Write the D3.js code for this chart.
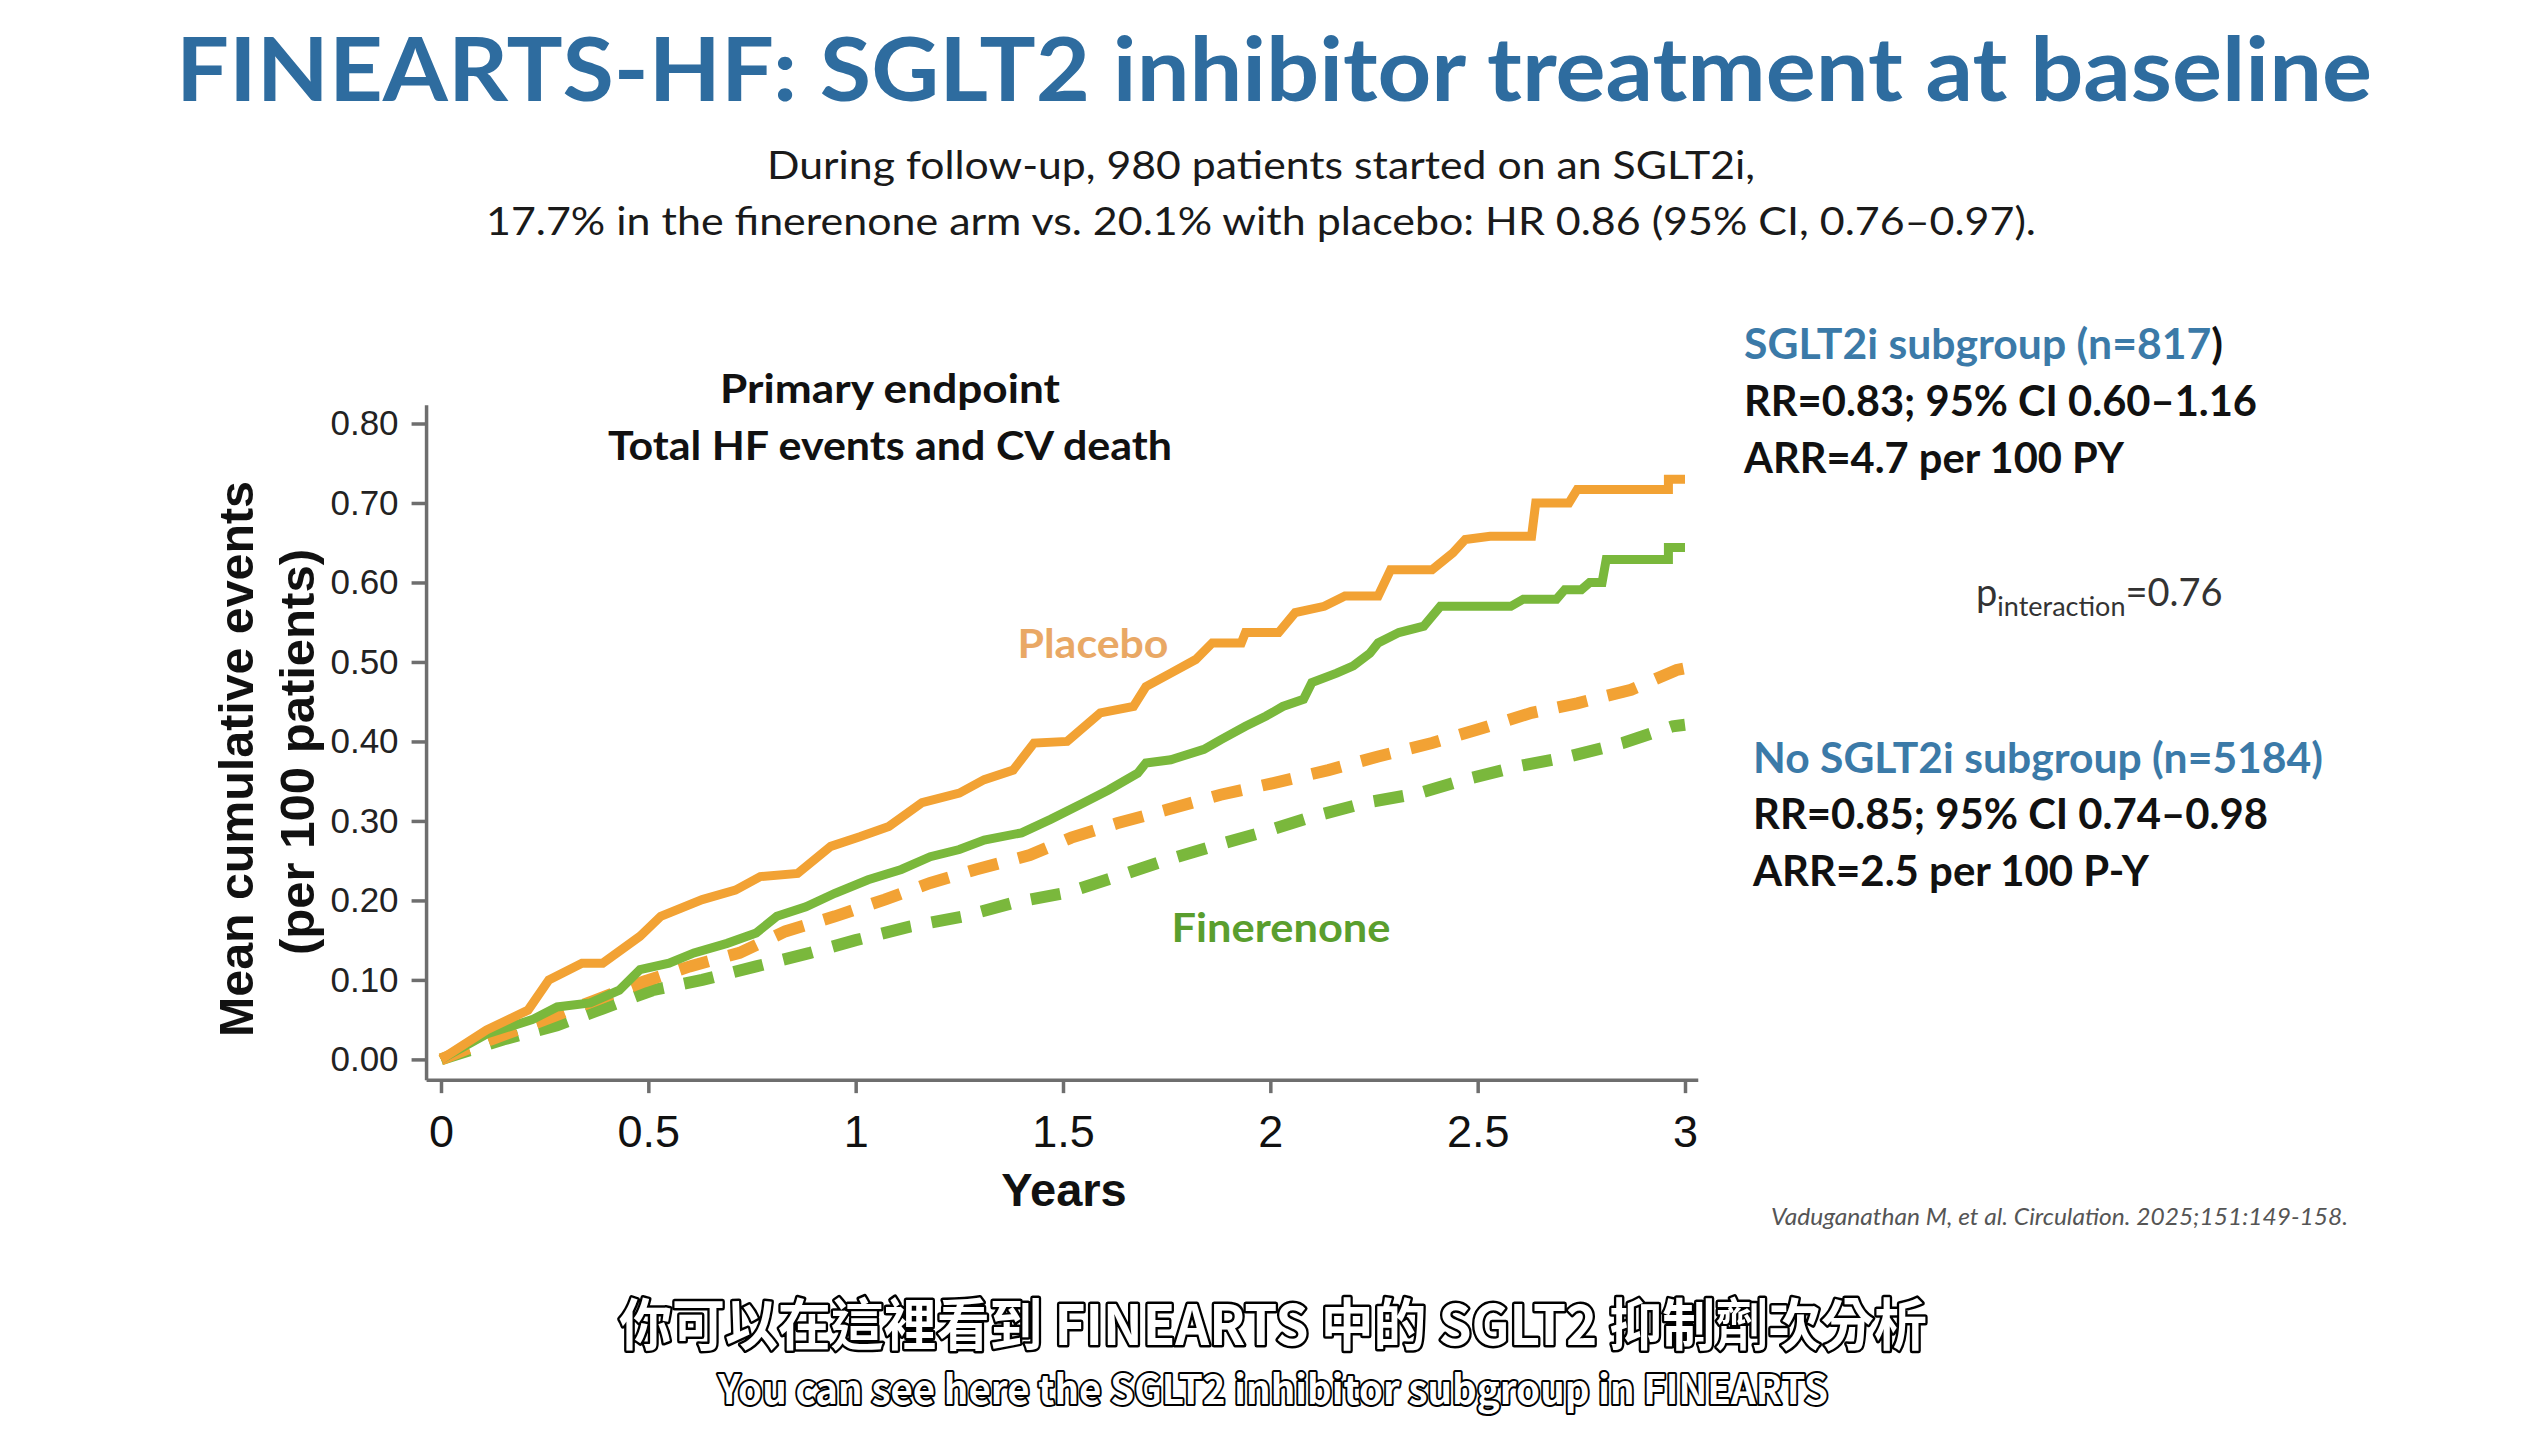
<!DOCTYPE html>
<html>
<head>
<meta charset="utf-8">
<script src="https://cdn.jsdelivr.net/npm/d3@7"></script>
<style>
  html, body { margin: 0; padding: 0; background: #ffffff; }
  svg { display: block; }
</style>
</head>
<body>
<svg id="chart" width="2548" height="1432"></svg>
<script>
// ---------------- DATA ----------------
const xTicks = [0, 0.5, 1, 1.5, 2, 2.5, 3];
const xTickLabels = ["0", "0.5", "1", "1.5", "2", "2.5", "3"];
const yTicks = [0, 0.1, 0.2, 0.3, 0.4, 0.5, 0.6, 0.7, 0.8];

// SGLT2i subgroup – placebo (solid orange)
const sgltPlaceboT = [0, 0.11, 0.21, 0.26, 0.34, 0.39, 0.48, 0.53, 0.63, 0.71, 0.77, 0.86, 0.94, 1.01, 1.08, 1.16, 1.25, 1.31, 1.38, 1.43, 1.51, 1.59, 1.67, 1.70, 1.76, 1.82, 1.86, 1.93, 1.94, 2.02, 2.06, 2.13, 2.18, 2.26, 2.29, 2.39, 2.44, 2.47, 2.53, 2.63, 2.64, 2.72, 2.74, 2.96, 2.96, 3.0];
const sgltPlaceboV = [0, 0.037, 0.062, 0.100, 0.121, 0.121, 0.155, 0.180, 0.201, 0.213, 0.230, 0.234, 0.268, 0.280, 0.293, 0.323, 0.335, 0.352, 0.364, 0.398, 0.400, 0.436, 0.444, 0.469, 0.486, 0.503, 0.524, 0.524, 0.537, 0.537, 0.562, 0.570, 0.583, 0.583, 0.616, 0.616, 0.637, 0.654, 0.658, 0.658, 0.700, 0.700, 0.717, 0.717, 0.730, 0.730];

// SGLT2i subgroup – finerenone (solid green)
const sgltFineT = [0, 0.11, 0.22, 0.28, 0.36, 0.43, 0.48, 0.55, 0.61, 0.69, 0.76, 0.81, 0.88, 0.95, 1.03, 1.11, 1.18, 1.25, 1.31, 1.40, 1.47, 1.55, 1.61, 1.68, 1.70, 1.76, 1.84, 1.88, 1.94, 1.99, 2.03, 2.08, 2.10, 2.16, 2.20, 2.24, 2.26, 2.31, 2.37, 2.41, 2.58, 2.61, 2.69, 2.71, 2.75, 2.77, 2.80, 2.81, 2.96, 2.96, 3.0];
const sgltFineV = [0, 0.032, 0.050, 0.066, 0.071, 0.087, 0.113, 0.121, 0.134, 0.146, 0.159, 0.180, 0.192, 0.209, 0.226, 0.239, 0.255, 0.264, 0.276, 0.285, 0.302, 0.323, 0.339, 0.360, 0.373, 0.377, 0.390, 0.402, 0.419, 0.432, 0.444, 0.453, 0.474, 0.486, 0.495, 0.511, 0.524, 0.537, 0.545, 0.570, 0.570, 0.579, 0.579, 0.591, 0.591, 0.600, 0.600, 0.629, 0.629, 0.644, 0.644];

// No SGLT2i subgroup – placebo (dashed orange)
const noSgltPlaceboT = [0, 0.12, 0.25, 0.37, 0.49, 0.60, 0.72, 0.83, 0.95, 1.07, 1.18, 1.29, 1.42, 1.52, 1.63, 1.75, 1.88, 2.01, 2.14, 2.26, 2.39, 2.50, 2.63, 2.74, 2.87, 2.98, 3.0];
const noSgltPlaceboV = [0, 0.025, 0.050, 0.074, 0.098, 0.117, 0.134, 0.161, 0.180, 0.201, 0.222, 0.239, 0.257, 0.279, 0.297, 0.314, 0.333, 0.348, 0.364, 0.381, 0.398, 0.415, 0.436, 0.448, 0.465, 0.490, 0.492];

// No SGLT2i subgroup – finerenone (dashed green)
const noSgltFineT = [0, 0.15, 0.28, 0.39, 0.51, 0.63, 0.76, 0.89, 1.00, 1.13, 1.26, 1.38, 1.51, 1.63, 1.75, 1.86, 1.99, 2.10, 2.23, 2.36, 2.47, 2.60, 2.72, 2.85, 2.97, 3.0];
const noSgltFineV = [0, 0.025, 0.043, 0.064, 0.087, 0.100, 0.117, 0.134, 0.150, 0.167, 0.180, 0.197, 0.210, 0.230, 0.251, 0.268, 0.287, 0.305, 0.323, 0.335, 0.352, 0.369, 0.381, 0.398, 0.419, 0.421];

// ---------------- LAYOUT ----------------
const svg = d3.select("#chart");
const W = 2548, H = 1432;
const ORANGE = "#f2a234", GREEN = "#7ab83c";
const AXIS = "#6e6e6e";
const SANS = "Lato, 'Open Sans', 'Noto Sans', sans-serif";
const ARIAL = "'Liberation Sans', Arial, sans-serif";

svg.append("rect").attr("width", W).attr("height", H).attr("fill", "#ffffff");

// scales
const x = d3.scaleLinear().domain([0, 3]).range([441, 1685]);
const y = d3.scaleLinear().domain([0, 0.8]).range([1059.4, 423.5]);
const axisX = x(-0.0348);   // y-axis line position (offset from data origin)
const axisY = y(-0.0261);   // x-axis line position

// ---------------- TITLE ----------------
svg.append("text")
  .attr("x", 1274).attr("y", 101)
  .attr("text-anchor", "middle")
  .attr("font-family", SANS).attr("font-weight", 700).attr("font-size", 88)
  .attr("fill", "#2e6c9f")
  .attr("textLength", 2196).attr("lengthAdjust", "spacingAndGlyphs")
  .text("FINEARTS-HF: SGLT2 inhibitor treatment at baseline");

svg.append("text")
  .attr("x", 1261).attr("y", 179)
  .attr("text-anchor", "middle")
  .attr("font-family", SANS).attr("font-size", 38).attr("fill", "#1a1a1a")
  .attr("textLength", 988).attr("lengthAdjust", "spacingAndGlyphs")
  .text("During follow-up, 980 patients started on an SGLT2i,");
svg.append("text")
  .attr("x", 1261).attr("y", 235)
  .attr("text-anchor", "middle")
  .attr("font-family", SANS).attr("font-size", 38).attr("fill", "#1a1a1a")
  .attr("textLength", 1550).attr("lengthAdjust", "spacingAndGlyphs")
  .text("17.7% in the finerenone arm vs. 20.1% with placebo: HR 0.86 (95% CI, 0.76–0.97).");

// ---------------- AXES ----------------
const gy = svg.append("g").attr("transform", `translate(${axisX},0)`)
  .call(d3.axisLeft(y).tickValues(yTicks).tickSize(15).tickPadding(13).tickFormat(d3.format(".2f")));
gy.select(".domain").remove();
gy.selectAll(".tick line").attr("stroke", AXIS).attr("stroke-width", 3.5);
gy.selectAll(".tick text").attr("font-family", ARIAL).attr("font-size", 35).attr("fill", "#222");
svg.append("line")
  .attr("x1", axisX).attr("x2", axisX).attr("y1", y(0.823)).attr("y2", axisY)
  .attr("stroke", AXIS).attr("stroke-width", 3.5);

const gx = svg.append("g").attr("transform", `translate(0,${axisY})`)
  .call(d3.axisBottom(x).tickValues(xTicks).tickSize(13).tickPadding(22)
    .tickFormat((d, i) => xTickLabels[i]));
gx.select(".domain").remove();
gx.selectAll(".tick line").attr("stroke", AXIS).attr("stroke-width", 3.5);
gx.selectAll(".tick text").attr("font-family", ARIAL).attr("font-size", 45).attr("fill", "#111");
svg.append("line")
  .attr("x1", axisX).attr("x2", x(3.032)).attr("y1", axisY).attr("y2", axisY)
  .attr("stroke", AXIS).attr("stroke-width", 3.5);

svg.append("text")
  .attr("x", 1064).attr("y", 1206)
  .attr("text-anchor", "middle")
  .attr("font-family", ARIAL).attr("font-weight", 700).attr("font-size", 47).attr("fill", "#111")
  .text("Years");

const yl = svg.append("g");
yl.append("text")
  .attr("transform", "translate(236,759) rotate(-90)")
  .attr("dy", "0.35em")
  .attr("text-anchor", "middle")
  .attr("font-family", ARIAL).attr("font-weight", 700).attr("font-size", 48).attr("fill", "#111")
  .attr("textLength", 556).attr("lengthAdjust", "spacingAndGlyphs")
  .text("Mean cumulative events");
yl.append("text")
  .attr("transform", "translate(297,752) rotate(-90)")
  .attr("dy", "0.35em")
  .attr("text-anchor", "middle")
  .attr("font-family", ARIAL).attr("font-weight", 700).attr("font-size", 48).attr("fill", "#111")
  .attr("textLength", 406).attr("lengthAdjust", "spacingAndGlyphs")
  .text("(per 100 patients)");

// chart inner title
svg.append("text")
  .attr("x", 890).attr("y", 403).attr("text-anchor", "middle")
  .attr("font-family", SANS).attr("font-weight", 700).attr("font-size", 40).attr("fill", "#111")
  .attr("textLength", 340).attr("lengthAdjust", "spacingAndGlyphs")
  .text("Primary endpoint");
svg.append("text")
  .attr("x", 890).attr("y", 460).attr("text-anchor", "middle")
  .attr("font-family", SANS).attr("font-weight", 700).attr("font-size", 40).attr("fill", "#111")
  .attr("textLength", 564).attr("lengthAdjust", "spacingAndGlyphs")
  .text("Total HF events and CV death");

// ---------------- LINES ----------------
const line = d3.line().x(d => x(d[0])).y(d => y(d[1])).curve(d3.curveLinear);
const zip = (t, v) => t.map((d, i) => [d, v[i]]);

const series = [
  { pts: zip(noSgltFineT, noSgltFineV), color: GREEN, dash: "30,21", w: 12 },
  { pts: zip(noSgltPlaceboT, noSgltPlaceboV), color: ORANGE, dash: "30,21", w: 12 },
  { pts: zip(sgltFineT, sgltFineV), color: GREEN, dash: null, w: 9 },
  { pts: zip(sgltPlaceboT, sgltPlaceboV), color: ORANGE, dash: null, w: 9 }
];
svg.append("g").selectAll("path").data(series).join("path")
  .attr("d", d => line(d.pts))
  .attr("fill", "none")
  .attr("stroke", d => d.color)
  .attr("stroke-width", d => d.w)
  .attr("stroke-dasharray", d => d.dash)
  .attr("stroke-linejoin", "miter")
  .attr("stroke-linecap", "butt");

// series labels
svg.append("text")
  .attr("x", 1093).attr("y", 658).attr("text-anchor", "middle")
  .attr("font-family", SANS).attr("font-weight", 700).attr("font-size", 40).attr("fill", "#e9a865")
  .attr("textLength", 151).attr("lengthAdjust", "spacingAndGlyphs")
  .text("Placebo");
svg.append("text")
  .attr("x", 1281).attr("y", 942).attr("text-anchor", "middle")
  .attr("font-family", SANS).attr("font-weight", 700).attr("font-size", 40).attr("fill", "#5a9e2e")
  .attr("textLength", 219).attr("lengthAdjust", "spacingAndGlyphs")
  .text("Finerenone");

// ---------------- RIGHT ANNOTATIONS ----------------
const BLUE = "#3b7aa8";
const t1 = svg.append("text").attr("x", 1744).attr("y", 359)
  .attr("font-family", SANS).attr("font-weight", 700).attr("font-size", 42)
  .attr("textLength", 479).attr("lengthAdjust", "spacingAndGlyphs");
t1.append("tspan").attr("fill", BLUE).text("SGLT2i subgroup (n=817");
t1.append("tspan").attr("fill", "#111").text(")");

const rightLines = [
  { x: 1744, y: 416, w: 513, t: "RR=0.83; 95% CI 0.60–1.16" },
  { x: 1744, y: 473, w: 380, t: "ARR=4.7 per 100 PY" },
  { x: 1753, y: 829, w: 515, t: "RR=0.85; 95% CI 0.74–0.98" },
  { x: 1753, y: 886, w: 396, t: "ARR=2.5 per 100 P-Y" }
];
svg.append("g").selectAll("text").data(rightLines).join("text")
  .attr("x", d => d.x).attr("y", d => d.y)
  .attr("font-family", SANS).attr("font-weight", 700).attr("font-size", 42).attr("fill", "#111")
  .attr("textLength", d => d.w).attr("lengthAdjust", "spacingAndGlyphs")
  .text(d => d.t);

svg.append("text").attr("x", 1753).attr("y", 773)
  .attr("font-family", SANS).attr("font-weight", 700).attr("font-size", 42).attr("fill", BLUE)
  .attr("textLength", 570).attr("lengthAdjust", "spacingAndGlyphs")
  .text("No SGLT2i subgroup (n=5184)");

const p = svg.append("text").attr("x", 1976).attr("y", 606)
  .attr("font-family", SANS).attr("font-size", 38).attr("fill", "#333");
p.append("tspan").text("p");
p.append("tspan").attr("font-size", 27).attr("dy", 10).text("interaction");
p.append("tspan").attr("dy", -10).text("=0.76");

// citation
svg.append("text").attr("x", 1771).attr("y", 1225)
  .attr("font-family", SANS).attr("font-style", "italic").attr("font-size", 23).attr("fill", "#555")
  .attr("textLength", 577).attr("lengthAdjust", "spacingAndGlyphs")
  .text("Vaduganathan M, et al. Circulation. 2025;151:149-158.");

// ---------------- SUBTITLES ----------------
const CJK = "'Noto Sans CJK TC', 'Noto Sans CJK SC', sans-serif";
svg.append("text").attr("x", 1273).attr("y", 1345).attr("text-anchor", "middle")
  .attr("font-family", CJK).attr("font-weight", 700).attr("font-size", 56)
  .attr("fill", "#ffffff").attr("stroke", "#000").attr("stroke-width", 5)
  .attr("paint-order", "stroke").attr("stroke-linejoin", "round")
  .attr("textLength", 1308).attr("lengthAdjust", "spacingAndGlyphs")
  .text("你可以在這裡看到 FINEARTS 中的 SGLT2 抑制劑次分析");
svg.append("text").attr("x", 1273).attr("y", 1404).attr("text-anchor", "middle")
  .attr("font-family", CJK).attr("font-weight", 700).attr("font-size", 40)
  .attr("fill", "#ffffff").attr("stroke", "#000").attr("stroke-width", 4)
  .attr("paint-order", "stroke").attr("stroke-linejoin", "round")
  .attr("textLength", 1110).attr("lengthAdjust", "spacingAndGlyphs")
  .text("You can see here the SGLT2 inhibitor subgroup in FINEARTS");
</script>
</body>
</html>
